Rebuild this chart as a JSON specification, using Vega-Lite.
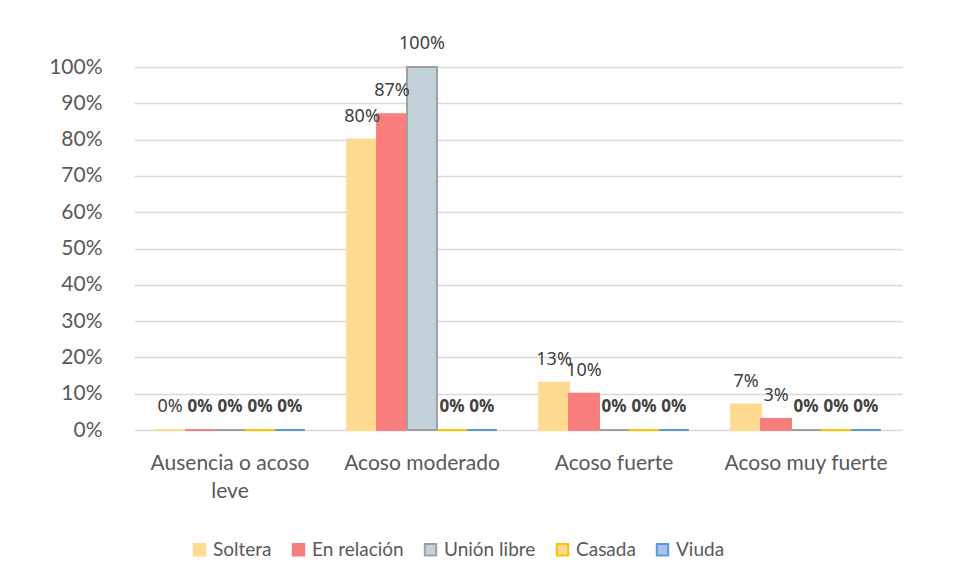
{
  "$schema": "https://vega.github.io/schema/vega-lite/v6.json",
  "autosize": {"type": "none"},
  "width": 768,
  "height": 363,
  "padding": {"left": 134, "top": 67, "right": 54, "bottom": 153},
  "background": "white",
  "config": {
    "view": {"stroke": null},
    "font": "Lato",
    "text": {"font": "Lato"}
  },
  "data": {
    "values": [
      {"category": "Ausencia o acoso leve", "series": "Soltera", "value": 0},
      {"category": "Ausencia o acoso leve", "series": "En relación", "value": 0},
      {"category": "Ausencia o acoso leve", "series": "Unión libre", "value": 0},
      {"category": "Ausencia o acoso leve", "series": "Casada", "value": 0},
      {"category": "Ausencia o acoso leve", "series": "Viuda", "value": 0},
      {"category": "Acoso moderado", "series": "Soltera", "value": 0.8},
      {"category": "Acoso moderado", "series": "En relación", "value": 0.87},
      {"category": "Acoso moderado", "series": "Unión libre", "value": 1.0},
      {"category": "Acoso moderado", "series": "Casada", "value": 0},
      {"category": "Acoso moderado", "series": "Viuda", "value": 0},
      {"category": "Acoso fuerte", "series": "Soltera", "value": 0.13},
      {"category": "Acoso fuerte", "series": "En relación", "value": 0.1},
      {"category": "Acoso fuerte", "series": "Unión libre", "value": 0},
      {"category": "Acoso fuerte", "series": "Casada", "value": 0},
      {"category": "Acoso fuerte", "series": "Viuda", "value": 0},
      {"category": "Acoso muy fuerte", "series": "Soltera", "value": 0.07},
      {"category": "Acoso muy fuerte", "series": "En relación", "value": 0.03},
      {"category": "Acoso muy fuerte", "series": "Unión libre", "value": 0},
      {"category": "Acoso muy fuerte", "series": "Casada", "value": 0},
      {"category": "Acoso muy fuerte", "series": "Viuda", "value": 0}
    ]
  },
  "encoding": {
    "x": {
      "field": "category",
      "type": "nominal",
      "sort": ["Ausencia o acoso leve", "Acoso moderado", "Acoso fuerte", "Acoso muy fuerte"],
      "scale": {"paddingInner": 0.22, "paddingOuter": 0.11},
      "axis": {
        "title": null,
        "labelAngle": 0,
        "labelFontSize": 21,
        "labelColor": "#595959",
        "labelFont": "Lato",
        "labelPadding": 22,
        "labelLineHeight": 28,
        "labelExpr": "datum.label == 'Ausencia o acoso leve' ? ['Ausencia o acoso', 'leve'] : datum.label",
        "domain": false,
        "ticks": false
      }
    },
    "xOffset": {
      "field": "series",
      "type": "nominal",
      "sort": ["Soltera", "En relación", "Unión libre", "Casada", "Viuda"],
      "scale": {"paddingInner": 0, "paddingOuter": 0}
    },
    "y": {
      "field": "value",
      "type": "quantitative",
      "scale": {"domain": [0, 1]},
      "axis": {
        "title": null,
        "format": ".0%",
        "values": [0, 0.1, 0.2, 0.3, 0.4, 0.5, 0.6, 0.7, 0.8, 0.9, 1.0],
        "labelOverlap": false,
        "labelFontSize": 21,
        "labelColor": "#595959",
        "labelFont": "Lato",
        "labelPadding": 32,
        "domain": false,
        "ticks": false,
        "gridColor": "#D9D9D9",
        "gridWidth": 1.5
      }
    }
  },
  "layer": [
    {
      "mark": {"type": "bar", "strokeWidth": 2},
      "encoding": {
        "fill": {
          "field": "series",
          "type": "nominal",
          "sort": ["Soltera", "En relación", "Unión libre", "Casada", "Viuda"],
          "scale": {
            "domain": ["Soltera", "En relación", "Unión libre", "Casada", "Viuda"],
            "range": ["#FFDA91", "#F87E7E", "#C3D2D9", "#FFDA91", "#A8C3EA"]
          },
          "legend": {
            "title": null,
            "orient": "none",
            "direction": "horizontal",
            "legendX": 56,
            "legendY": 473,
            "symbolType": "square",
            "symbolSize": 130,
            "symbolStrokeWidth": 2,
            "labelFontSize": 19,
            "labelColor": "#595959",
            "labelFont": "Lato",
            "labelOffset": 4,
            "columnPadding": 16
          }
        },
        "stroke": {
          "field": "series",
          "type": "nominal",
          "sort": ["Soltera", "En relación", "Unión libre", "Casada", "Viuda"],
          "scale": {
            "domain": ["Soltera", "En relación", "Unión libre", "Casada", "Viuda"],
            "range": ["#FFDA91", "#F87E7E", "#A0A0A0", "#FFC000", "#5B9BD5"]
          },
          "legend": {
            "title": null,
            "orient": "none",
            "direction": "horizontal",
            "legendX": 56,
            "legendY": 473,
            "symbolType": "square",
            "symbolSize": 130,
            "symbolStrokeWidth": 2,
            "labelFontSize": 19,
            "labelColor": "#595959",
            "labelFont": "Lato",
            "labelOffset": 4,
            "columnPadding": 16
          }
        }
      }
    },
    {
      "transform": [{"filter": "!(datum.value == 0 && datum.series != 'Soltera')"}],
      "mark": {"type": "text", "baseline": "bottom", "dy": -14, "fontSize": 18, "color": "#404040", "font": "Noto Sans", "fontWeight": "normal"},
      "encoding": {
        "text": {"field": "value", "type": "quantitative", "format": ".0%"}
      }
    },
    {
      "transform": [{"filter": "datum.value == 0 && datum.series != 'Soltera'"}],
      "mark": {"type": "text", "baseline": "bottom", "dy": -14, "fontSize": 17, "color": "#404040", "font": "Noto Sans", "fontWeight": "bold"},
      "encoding": {
        "text": {"field": "value", "type": "quantitative", "format": ".0%"}
      }
    }
  ]
}
